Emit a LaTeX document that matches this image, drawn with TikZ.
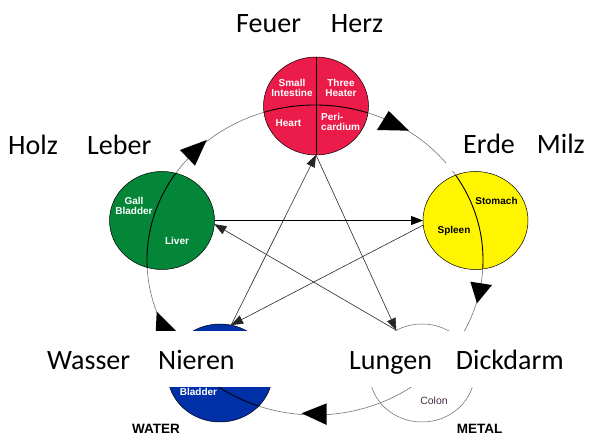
\documentclass[tikz,border=0pt]{standalone}
\usepackage{fontspec}
\setmainfont{Liberation Sans}
\newfontfamily\calib{Carlito}
\usetikzlibrary{arrows.meta,shapes.geometric}
\definecolor{firered}{RGB}{236,28,74}
\definecolor{woodgreen}{RGB}{3,134,55}
\definecolor{earthyellow}{RGB}{255,245,0}
\definecolor{waterblue}{RGB}{0,48,168}
\definecolor{colontext}{RGB}{70,45,70}
\begin{document}
\begin{tikzpicture}[x=1pt,y=-1pt,
  element/.style={ellipse, minimum width=105pt, minimum height=98pt, inner sep=0pt, outer sep=0pt, draw=black, line width=0.5pt},
  cyclepath/.style={draw=black!55, line width=0.6pt},
  divider/.style={draw=black, line width=0.9pt},
  ctrl/.style={draw=black!85, line width=0.6pt, -{Triangle[length=12pt,width=9pt]}},
  cyclehead/.style={fill=black},
  organ/.style={font=\fontsize{10}{10.5}\selectfont\bfseries, text=white, inner sep=0pt, align=center},
  biglabel/.style={font=\calib\fontsize{28}{30}\selectfont, fill=white, text height=22pt, text depth=0pt, inner ysep=17pt, anchor=base west},
  elemname/.style={font=\fontsize{13.5}{14}\selectfont\bfseries, inner sep=0pt}
]
\useasboundingbox (0,0) rectangle (592,435);

% generating cycle
\draw[cyclepath] (315,260) ellipse [x radius=168pt, y radius=155pt];

% elements
\node[element, fill=firered] (fire) at (316,106) {};
\node[element, fill=woodgreen] (wood) at (162,220.5) {};
\node[element, fill=earthyellow] (earth) at (475.5,220.5) {};
\node[element, fill=waterblue] (water) at (220,373) {};
\node[element, fill=white, draw=black!60] (metal) at (422,373) {};

% dividers
\foreach \n in {fire,wood,earth,water} {
  \begin{scope}
    \clip (\n.center) ellipse [x radius=52.3pt, y radius=48.8pt];
    \draw[divider] (315,260) ellipse [x radius=168pt, y radius=155pt];
  \end{scope}
}
\begin{scope}
  \clip (metal.center) ellipse [x radius=52.3pt, y radius=48.8pt];
  \draw[cyclepath] (315,260) ellipse [x radius=168pt, y radius=155pt];
\end{scope}
\draw[divider] (fire.north) -- (fire.south);

% controlling cycle
\draw[ctrl] (water.77) -- (fire.south);
\draw[ctrl] (fire.south) -- (metal.121);
\draw[ctrl] (metal.121) -- (wood.-4);
\draw[ctrl, line width=0.9pt, draw=black] (wood.east) -- (earth.west);
\draw[ctrl] (earth.185) -- (water.77);

% organ texts
\node[organ] (si) at (292,88) {Small\\Intestine};
\node[organ] (th) at (341,88) {Three\\Heater};
\node[organ] (ht) at (288.5,123) {Heart};
\node[organ, align=left, anchor=west] (pc) at (321,122) {Peri-\\cardium};
\node[organ] (gb) at (134,206) {Gall\\Bladder};
\node[organ] (lv) at (177,240.5) {Liver};
\node[organ, text=black] (st) at (496.5,201) {Stomach};
\node[organ, text=black] (sp) at (454,231) {Spleen};
\node[organ] (bl) at (198.5,392) {Bladder};
\node[organ, text=colontext, font=\fontsize{10.5}{11}\selectfont] (co) at (434,401) {Colon};

% generating cycle arrowheads
\fill[cyclehead] (409,130.7) -- (388.7,111) -- (377,130) -- cycle;
\fill[cyclehead] (477,303.3) -- (470.3,281.7) -- (492,285) -- cycle;
\fill[cyclehead] (301.7,413.3) -- (326.7,403.3) -- (326.7,425) -- cycle;
\fill[cyclehead] (156.7,311.7) -- (176,331) -- (155.4,339) -- cycle;
\fill[cyclehead] (206.7,140) -- (180,150) -- (195,165.7) -- cycle;

% labels
\node[biglabel, inner xsep=8pt, inner ysep=15pt] (feuer) at (228,33) {Feuer\hspace{30pt}Herz};
\node[biglabel, inner xsep=8pt, inner ysep=15pt] (holz) at (0,155) {Holz\hspace{29.3pt}Leber};
\node[biglabel, inner xsep=17pt] (erde) at (446,154) {Erde\hspace{22pt}Milz};
\node[biglabel, inner xsep=7pt] (wasser) at (40,370) {Wasser\hspace{28pt}Nieren\rule{38pt}{0pt}};
\node[biglabel, inner xsep=9pt] (lungen) at (340,370) {Lungen\hspace{24pt}Dickdarm};

\node[elemname] (wlab) at (156,428.5) {WATER};
\node[elemname] (mlab) at (479.5,428.5) {METAL};
\end{tikzpicture}
\end{document}
